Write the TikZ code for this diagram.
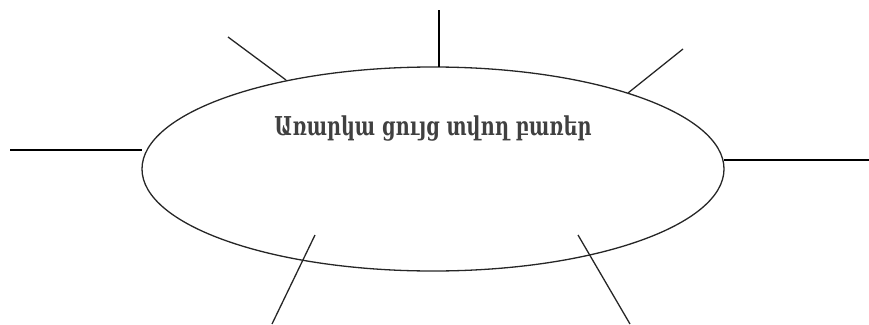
\documentclass[tikz,border=0pt]{standalone}
\usepackage{fontspec}
\usepackage{graphicx}
\newfontfamily\armfont{DejaVu Serif}
\usetikzlibrary{shapes.geometric}
\begin{document}
\begin{tikzpicture}[x=1pt,y=-1pt,
  thin line/.style={line width=1.3pt,black!85},
  thick line/.style={line width=2pt,black}]
\useasboundingbox (0,0) rectangle (869,324);
\node[ellipse,draw,line width=1.3pt,black!85,minimum width=582pt,minimum height=204pt,inner sep=0pt] (e) at (433,169) {};
\node[text=black!75] (t) at (433,129) {\scalebox{0.74}[1]{\armfont\bfseries\fontsize{26}{30}\selectfont Առարկա ցույց տվող բառեր}};
\coordinate (top) at (439,10);
\coordinate (topE) at (439,67);
\coordinate (ul) at (228,37);
\coordinate (ulE) at (286,80);
\coordinate (ur) at (683,49);
\coordinate (urE) at (628,93);
\coordinate (l) at (10,150);
\coordinate (lE) at (142,150);
\coordinate (r) at (724,160);
\coordinate (rE) at (869,160);
\coordinate (llA) at (315,235);
\coordinate (llB) at (272,324);
\coordinate (lrA) at (578,235);
\coordinate (lrB) at (630,324);
\draw[thick line] (top) -- (topE);
\draw[thick line] (l) -- (lE);
\draw[thick line] (r) -- (rE);
\draw[thin line] (ul) -- (ulE);
\draw[thin line] (ur) -- (urE);
\draw[thin line] (llA) -- (llB);
\draw[thin line] (lrA) -- (lrB);
\end{tikzpicture}
\end{document}
